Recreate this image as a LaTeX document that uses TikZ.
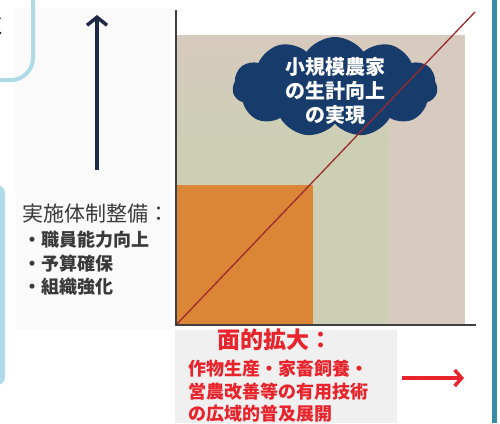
\documentclass[tikz,border=0pt]{standalone}
\usepackage{fontspec}
\newfontfamily\jp{Noto Sans CJK JP}
\usetikzlibrary{shapes.symbols,arrows.meta}
\definecolor{beige}{HTML}{D7CABE}
\definecolor{olive}{HTML}{CDCFB5}
\definecolor{orng}{HTML}{DB8537}
\definecolor{navy}{HTML}{173B6B}
\definecolor{teal}{HTML}{3C8BA6}
\definecolor{lblue}{HTML}{ADDAE6}
\definecolor{redtxt}{HTML}{E8232B}
\definecolor{diag}{HTML}{9B2B2B}
\definecolor{darkarrow}{HTML}{1C2A48}
\definecolor{txtgray}{HTML}{3A3A3A}
\tikzset{
  lefttxt/.style={anchor=west, inner sep=0pt, text=txtgray, font=\jp\bfseries\fontsize{18}{20}\selectfont},
  redline/.style={anchor=west, inner sep=0pt, text=redtxt, font=\jp\bfseries\fontsize{18}{20}\selectfont},
  axis/.style={draw=black!75, line width=1.2pt}
}
\begin{document}
\begin{tikzpicture}[x=1pt,y=-1pt]
\useasboundingbox (0,0) rectangle (500,423);
% faint backgrounds
\fill[black!2] (15,8) rectangle (170,330);
\fill[black!6] (175,330) rectangle (397,423);
% left boxes
\draw[lblue, line width=4pt, rounded corners=22pt] (-40,-40) rectangle (33,80);
\fill[lblue, rounded corners=8pt] (-30,185) rectangle (5,385);
\node[anchor=east, inner sep=0pt, font=\jp\fontsize{20}{22}\selectfont] (partial) at (8,26) {く};
% chart areas
\fill[beige] (177,35) rectangle (465,325);
\shade[top color=beige, bottom color=olive] (177,35) rectangle (388,140);
\fill[olive] (177,139) rectangle (388,325);
\fill[orng] (177,185) rectangle (313,325);
% right bar
\fill[teal] (492,0) rectangle (497,423);
% cloud
\node[cloud, cloud puffs=11, cloud puff arc=110, aspect=2.1, fill=navy, minimum width=205pt, minimum height=100pt, inner sep=0pt] (cloud) at (335,87) {};
\node[align=center, text=white, font=\jp\bfseries\fontsize{20}{24}\selectfont, inner sep=0pt] (cloudtxt) at (335,91) {小規模農家\\の生計向上\\の実現};
% axes and diagonal
\coordinate (origin) at (176,325);
\coordinate (ytop) at (176,10);
\coordinate (xend) at (476,325);
\coordinate (dend) at (475,12);
\draw[diag, line width=1.3pt] (origin) -- (dend);
\draw[axis] (ytop) -- (origin) -- (xend);
% navy arrow
\coordinate (ua1) at (97,170);
\coordinate (ua2) at (97,15);
\draw[darkarrow, line width=3.5pt, -{Straight Barb[length=8pt,width=20pt,line width=3.5pt]}] (ua1) -- (ua2);
% left text
\node[anchor=west, inner sep=0pt, text=txtgray, font=\jp\fontsize{21}{23}\selectfont] (title) at (22,214) {実施体制整備：};
\node[lefttxt] (i1) at (23,240) {・職員能力向上};
\node[lefttxt] (i2) at (23,264) {・予算確保};
\node[lefttxt] (i3) at (23,287) {・組織強化};
% bottom text
\node[anchor=west, inner sep=0pt, text=redtxt, font=\jp\bfseries\fontsize{23}{25}\selectfont] (btitle) at (217,340) {面的拡大：};
\node[redline] (b1) at (188,369) {作物生産・家畜飼養・};
\node[redline] (b2) at (188,392) {営農改善等の有用技術};
\node[redline] (b3) at (188,414) {の広域的普及展開};
% red arrow
\coordinate (ra1) at (402,378);
\coordinate (ra2) at (464,378);
\draw[redtxt, line width=4pt, -{Straight Barb[length=7pt,width=16pt,line width=3.5pt]}] (ra1) -- (ra2);
\end{tikzpicture}
\end{document}
